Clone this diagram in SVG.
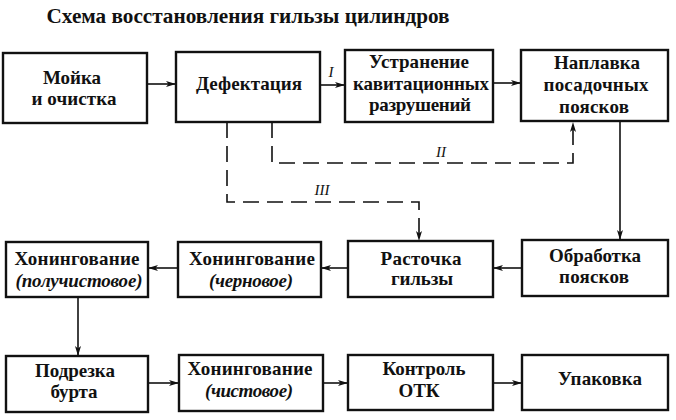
<svg xmlns="http://www.w3.org/2000/svg" width="676" height="420" viewBox="0 0 676 420">
<defs>
<marker id="ah" viewBox="0 0 10 6" refX="10" refY="3" markerWidth="10" markerHeight="6" markerUnits="userSpaceOnUse" orient="auto">
<path d="M0,0 L10,3 L0,6 L2.5,3 z" fill="#111"/>
</marker>
<style>
.box{fill:#fff;stroke:#111;stroke-width:2.4}
.ln{fill:none;stroke:#111;stroke-width:1.6}
.ds{fill:none;stroke:#111;stroke-width:1.6;stroke-dasharray:16 8}
</style>
</defs>
<rect width="676" height="420" fill="#fff"/>
<text x="248" y="23" font-family="Liberation Serif, serif" font-weight="bold" font-size="22" fill="#111" text-anchor="middle" textLength="403" lengthAdjust="spacingAndGlyphs">Схема восстановления гильзы цилиндров</text>

<g id="connectors">
<line class="ln" x1="147" y1="84" x2="176" y2="84" marker-end="url(#ah)"/>
<line class="ln" x1="320" y1="85" x2="345" y2="85" marker-end="url(#ah)"/>
<line class="ln" x1="493" y1="83" x2="521" y2="83" marker-end="url(#ah)"/>
<polyline class="ds" points="272,122 272,163 573,163 573,122" marker-end="url(#ah)"/>
<polyline class="ds" points="227,122 227,202 419,202 419,241" marker-end="url(#ah)"/>
<line class="ln" x1="620" y1="121" x2="620" y2="240" marker-end="url(#ah)"/>
<line class="ln" x1="522" y1="268" x2="493" y2="268" marker-end="url(#ah)"/>
<line class="ln" x1="348" y1="268" x2="321" y2="268" marker-end="url(#ah)"/>
<line class="ln" x1="178" y1="268" x2="148" y2="268" marker-end="url(#ah)"/>
<line class="ln" x1="78" y1="297" x2="78" y2="356" marker-end="url(#ah)"/>
<line class="ln" x1="148" y1="383" x2="179" y2="383" marker-end="url(#ah)"/>
<line class="ln" x1="323" y1="383" x2="348" y2="383" marker-end="url(#ah)"/>
<line class="ln" x1="493" y1="383" x2="522" y2="383" marker-end="url(#ah)"/>
<g font-family="Liberation Serif, serif" font-style="italic" font-size="15" fill="#111" text-anchor="middle">
<text x="331" y="77">I</text>
<text x="441" y="157">II</text>
<text x="322" y="195">III</text>
</g>
</g>

<g font-family="Liberation Serif, serif" font-weight="bold" font-size="19" fill="#111" text-anchor="middle" lengthAdjust="spacingAndGlyphs">
<g id="n1"><rect class="box" x="3" y="53" width="144" height="70"/>
<text x="72" y="84" textLength="58">Мойка</text><text x="74" y="105" textLength="85">и очистка</text></g>
<g id="n2"><rect class="box" x="176" y="52" width="144" height="70"/>
<text x="249" y="90" textLength="106">Дефектация</text></g>
<g id="n3"><rect class="box" x="345" y="50" width="148" height="72"/>
<text x="419" y="68" textLength="100">Устранение</text><text x="421" y="90" textLength="136">кавитационных</text><text x="420" y="111" textLength="102">разрушений</text></g>
<g id="n4"><rect class="box" x="521" y="50" width="147" height="71"/>
<text x="597" y="69" textLength="86">Наплавка</text><text x="596" y="91" textLength="105">посадочных</text><text x="594" y="113" textLength="70">поясков</text></g>

<g id="n5"><rect class="box" x="6" y="242" width="142" height="55"/>
<text x="77" y="265" textLength="125">Хонингование</text><text x="79" y="287" font-style="italic" textLength="127">(получистовое)</text></g>
<g id="n6"><rect class="box" x="178" y="242" width="143" height="55"/>
<text x="252" y="265" textLength="126">Хонингование</text><text x="251" y="287" font-style="italic" textLength="84">(черновое)</text></g>
<g id="n7"><rect class="box" x="348" y="241" width="145" height="56"/>
<text x="421" y="265" textLength="81">Расточка</text><text x="422" y="285" textLength="62">гильзы</text></g>
<g id="n8"><rect class="box" x="522" y="240" width="146" height="56"/>
<text x="595" y="262" textLength="92">Обработка</text><text x="594" y="283" textLength="70">поясков</text></g>

<g id="n9"><rect class="box" x="6" y="356" width="142" height="56"/>
<text x="75" y="377" textLength="80">Подрезка</text><text x="74" y="398" textLength="47">бурта</text></g>
<g id="n10"><rect class="box" x="179" y="355" width="144" height="56"/>
<text x="250" y="375" textLength="125">Хонингование</text><text x="249" y="397" font-style="italic" textLength="88">(чистовое)</text></g>
<g id="n11"><rect class="box" x="348" y="355" width="145" height="55"/>
<text x="424" y="375" textLength="83">Контроль</text><text x="419" y="397" textLength="41">ОТК</text></g>
<g id="n12"><rect class="box" x="522" y="355" width="146" height="55"/>
<text x="600" y="385" textLength="84">Упаковка</text></g>
</g>
</svg>
